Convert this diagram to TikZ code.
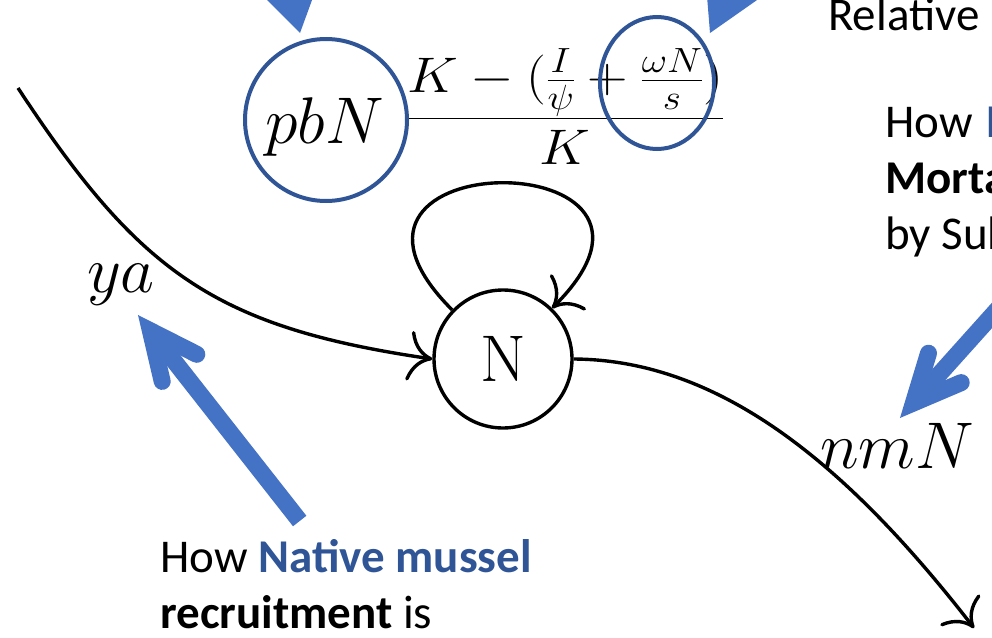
\RequirePackage{fix-cm}
\documentclass[tikz,border=0pt]{standalone}
\usepackage{fontspec}
\newfontfamily\calib{Carlito}
\usetikzlibrary{arrows.meta}
\definecolor{hlblue}{HTML}{2F5597}
\definecolor{arblue}{HTML}{4472C4}
\tikzset{
  flow/.style={line width=3.4pt, -{To[length=24pt,width=50pt]}},
  hl/.style={draw=hlblue, line width=4pt},
  mlabel/.style={inner sep=0pt, font=\fontsize{66}{70}\selectfont},
  txt/.style={inner sep=0pt, anchor=base west, font=\calib\fontsize{47}{56}\selectfont},
  shaft/.style={draw=arblue, line width=17pt, line cap=butt},
  barbs/.style={draw=arblue, line width=17pt, line cap=round, line join=miter},
  tri/.style={draw=arblue, line width=8pt},
}
\begin{document}
\begin{tikzpicture}[x=1pt,y=-1pt]
\useasboundingbox (0,0) rectangle (992,637);
\clip (0,0) rectangle (992,637);

% central stock
\node[circle, draw, line width=3.4pt, minimum size=138pt, inner sep=0pt,
      font=\fontsize{66}{70}\selectfont] (N) at (503,359) {N};

% formula
\node[mlabel, anchor=base west] (pbn) at (265,143) {$pbN$};
\node[inner sep=0pt, anchor=base west, font=\fontsize{50}{54}\selectfont] (frac) at (405.7,130.5)
  {\scalebox{1.12}[1]{$\displaystyle\frac{K-(\frac{I}{\psi}+\frac{\omega N}{s})}{K}$}};

% flow labels
\node[mlabel, anchor=base west] (ya) at (87,292) {$ya$};
\node[mlabel, anchor=base west] (nmn) at (820,468) {$nmN$};

% flows
\coordinate (src) at (18,88);
\coordinate (sink) at (974,628);
\draw[flow] (src) .. controls (139,272) and (214,327) .. (N.west);
\draw[flow] (N.east) .. controls (722,360) and (849,467) .. (sink);
\draw[flow] (N.136) .. controls (283,141) and (720,141) .. (N.46);

% highlight circles
\coordinate (pbc) at (326,120);
\draw[hl] (pbc) circle [radius=81];
\coordinate (wnc) at (657,83);
\draw[hl] (wnc) ellipse [x radius=57, y radius=66];

% top pointer arrows (triangle heads)
\coordinate (tlS) at (257,-162);
\coordinate (tlT) at (300,33);
\draw[tri, -{Triangle[length=55pt,width=70pt,line width=0pt]}] (tlS) -- (tlT);
\coordinate (trS) at (795,-148);
\coordinate (trT) at (710,33);
\draw[tri, -{Triangle[length=55pt,width=63pt,line width=0pt]}] (trS) -- (trT);

% pointer to ya
\coordinate (yaS) at (299.7,521);
\coordinate (yaV) at (150.4,330.8);
\coordinate (yaB1) at (196.8,354.3);
\coordinate (yaB2) at (162.2,381.4);
\draw[shaft] (yaS) -- (yaV);
\draw[barbs] (yaB1) -- (yaV) -- (yaB2);

% pointer to nmN
\coordinate (nmS) at (1100,195);
\coordinate (nmV) at (913.4,403.0);
\coordinate (nmB1) at (961.2,382.6);
\coordinate (nmB2) at (928.5,353.2);
\draw[shaft] (nmS) -- (nmV);
\draw[barbs] (nmB1) -- (nmV) -- (nmB2);

% texts
\node[txt] (lt1) at (160,572) {How \textbf{\textcolor{hlblue}{Native mussel}}};
\node[txt] (lt2) at (160,628) {\textbf{recruitment} is};
\node[txt] (rt0) at (828,30) {Relative};
\node[txt] (rt1) at (885,137) {How\hspace{3pt} \textbf{\textcolor{hlblue}{N}}};
\node[txt] (rt2) at (885,193) {\textbf{Mortal}};
\node[txt] (rt3) at (885,249) {by Sub};
\end{tikzpicture}
\end{document}
